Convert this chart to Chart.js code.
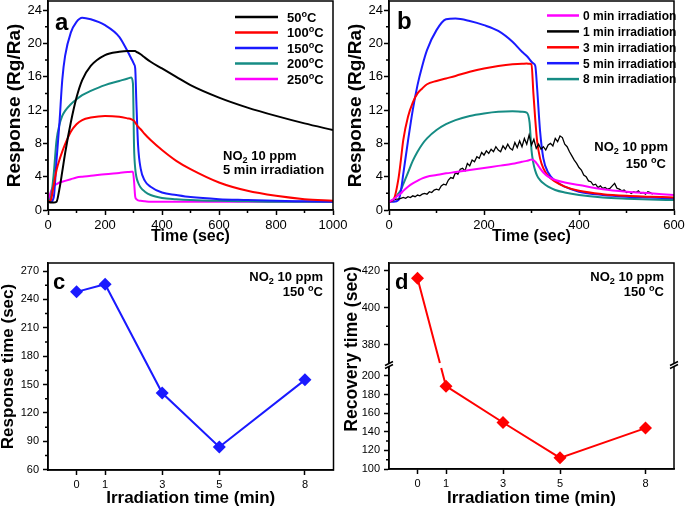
<!DOCTYPE html>
<html>
<head>
<meta charset="utf-8">
<script src="https://cdn.jsdelivr.net/npm/chart.js@4.4.1/dist/chart.umd.min.js"></script>
<style>
  html, body { margin: 0; padding: 0; background: #fff; }
  body { width: 685px; height: 507px; position: relative; overflow: hidden; }
  canvas { position: absolute; }
</style>
</head>
<body>
<canvas id="chartA" width="350" height="250" style="left:0px;top:0px"></canvas>
<canvas id="chartB" width="345" height="250" style="left:340px;top:0px"></canvas>
<canvas id="chartC" width="340" height="257" style="left:0px;top:250px"></canvas>
<canvas id="chartD" width="345" height="257" style="left:340px;top:250px"></canvas>
<script>
// ---- panel a : response transients at different temperatures ----
const aTime = [0, 10, 20, 30, 40, 50, 60, 80, 100, 120, 150, 200, 250, 280, 292, 298, 302, 306, 310, 316, 325, 340, 360, 400, 450, 500, 600, 700, 800, 900, 1000];
const a50 = [1.0, 0.9, 0.9, 1.0, 2.5, 4.6, 6.8, 10.5, 13.5, 15.6, 17.3, 18.6, 19.0, 19.1, 19.1, 19.1, 19.1, 19.1, 19.0, 18.9, 18.7, 18.3, 17.8, 17.0, 16.0, 15.0, 13.5, 12.3, 11.3, 10.4, 9.6];
const a100 = [1.0, 1.2, 3.0, 4.8, 6.0, 7.0, 7.9, 9.4, 10.3, 10.8, 11.1, 11.3, 11.2, 11.0, 10.9, 10.8, 10.7, 10.5, 10.3, 10.0, 9.7, 9.1, 8.4, 7.2, 5.9, 4.9, 3.3, 2.3, 1.7, 1.3, 1.1];
const a150 = [1.0, 1.0, 1.5, 6.0, 10.4, 15.6, 18.5, 21.3, 22.6, 23.1, 22.9, 22.2, 20.8, 19.0, 18.2, 17.8, 17.5, 17.0, 13.0, 7.8, 5.0, 3.5, 2.8, 2.1, 1.8, 1.55, 1.3, 1.2, 1.1, 1.05, 1.0];
const a200 = [1.0, 1.5, 4.3, 8.4, 10.2, 11.3, 11.9, 12.7, 13.3, 13.8, 14.3, 15.0, 15.5, 15.8, 15.9, 15.2, 7.5, 5.0, 4.0, 3.3, 2.7, 2.2, 1.8, 1.45, 1.3, 1.2, 1.1, 1.05, 1.0, 1.0, 1.0];
const a250 = [0.9, 2.2, 2.9, 3.1, 3.3, 3.4, 3.5, 3.7, 3.9, 4.0, 4.1, 4.3, 4.45, 4.55, 4.6, 4.6, 3.4, 1.6, 1.3, 1.15, 1.1, 1.05, 1.0, 1.0, 1.0, 1.0, 1.0, 1.0, 1.0, 1.0, 1.0];
const aLabels = ['50^oC', '100^oC', '150^oC', '200^oC', '250^oC'];
const aXTicks = [0, 200, 400, 600, 800, 1000];

// ---- panel b : response transients after different irradiation times ----
const bTime = [0, 10, 20, 25, 30, 40, 50, 60, 70, 80, 100, 120, 140, 170, 200, 230, 260, 280, 290, 296, 300, 304, 308, 312, 318, 325, 335, 350, 370, 400, 450, 500, 550, 600];
const b0 = [1.0, 1.3, 1.8, 2.0, 2.3, 2.8, 3.2, 3.5, 3.8, 4.0, 4.2, 4.4, 4.55, 4.8, 5.05, 5.3, 5.55, 5.8, 5.9, 6.0, 6.05, 6.0, 5.8, 5.5, 5.0, 4.5, 4.0, 3.6, 3.3, 3.0, 2.5, 2.2, 2.0, 1.8];
const b3 = [1.0, 1.3, 3.8, 6.0, 8.4, 11.2, 12.9, 14.0, 14.6, 15.1, 15.5, 15.8, 16.1, 16.6, 17.0, 17.3, 17.5, 17.55, 17.6, 17.55, 17.5, 14.0, 10.8, 8.2, 6.2, 5.0, 4.1, 3.4, 2.8, 2.3, 1.9, 1.7, 1.6, 1.5];
const b5 = [1.0, 1.0, 1.2, 2.3, 4.3, 8.3, 12.0, 15.0, 17.3, 19.2, 21.6, 22.9, 23.0, 22.7, 22.2, 21.5, 20.2, 19.0, 18.5, 18.1, 17.8, 17.6, 17.3, 14.5, 9.5, 6.2, 4.5, 3.5, 2.8, 2.2, 1.8, 1.6, 1.5, 1.4];
const b8 = [1.0, 1.3, 2.0, 2.4, 3.1, 4.5, 5.9, 7.0, 7.9, 8.6, 9.6, 10.3, 10.8, 11.3, 11.6, 11.8, 11.85, 11.8, 11.7, 10.5, 7.2, 5.6, 4.7, 4.1, 3.6, 3.2, 2.8, 2.4, 2.1, 1.8, 1.5, 1.35, 1.25, 1.2];
// noisy 1 min trace, one reading every 5 s
const b1 = [1.0, 1.1, 1.2, 1.3, 1.3, 1.4, 1.5, 1.4, 1.6, 1.5,
  1.7, 1.6, 1.8, 1.7, 1.9, 2.0, 1.9, 2.2, 2.1, 2.4,
  2.5, 2.4, 2.9, 3.1, 3.0, 3.6, 3.9, 3.8, 4.5, 4.3,
  4.9, 5.0, 4.7, 5.6, 5.3, 6.0, 5.8, 6.4, 6.2, 6.9,
  6.6, 7.1, 6.8, 7.3, 7.0, 7.6, 7.2, 7.0, 7.7, 7.3,
  7.9, 7.4, 7.2, 8.1, 7.5, 8.3, 7.6, 8.6, 7.9, 9.0,
  7.8, 8.5, 7.4, 7.9, 7.3, 7.6, 7.2, 7.8, 8.0, 7.7,
  8.6, 8.2, 8.9, 8.7, 7.9, 7.6, 7.0, 6.5, 6.0, 5.6,
  5.1, 4.8, 4.2, 4.0, 3.5, 3.4, 3.0, 3.1, 2.7, 2.9,
  2.6, 2.7, 2.5, 2.6, 2.9, 3.2, 2.6, 2.5, 2.3, 2.4,
  2.1, 2.2, 2.0, 2.2, 2.1, 2.3, 2.0, 2.1, 1.9, 2.2,
  2.1, 1.9];
const b1Time = b1.map((v, i) => i * 5);
const bLabels = ['0 min irradiation', '1 min irradiation', '3 min irradiation', '5 min irradiation', '8 min irradiation'];
const bXTicks = [0, 200, 400, 600];
const respTicks = [0, 4, 8, 12, 16, 20, 24];

// ---- panels c, d : response / recovery time vs irradiation time ----
const irrTime = [0, 1, 3, 5, 8];
const respTime = [248, 256, 141, 84, 155];
const recTime = [416, 189, 150, 112, 144];
const recSplit = 300; // values above go on the upper part of the broken axis
const cYTicks = [60, 90, 120, 150, 180, 210, 240, 270];
const dLowTicks = [100, 120, 140, 160, 180, 200];
const dUpTicks = [380, 400, 420];

const FONT = "'Liberation Sans', Arial, Helvetica, sans-serif";
const BLACK = '#000000', RED = '#ff0000', BLUE = '#1a1aff', TEAL = '#168c84', MAGENTA = '#ff00ff';

Chart.defaults.font.family = FONT;
Chart.defaults.color = '#000';

function series(xs, ys) {
  return xs.map((x, i) => ({ x: x, y: ys[i] }));
}

// text with _x subscripts and ^x superscripts
function rich(ctx, str, x, y, size, align) {
  const parts = str.split(/([_^].)/).filter(s => s.length).map(s =>
    s[0] === '_' ? { t: s[1], k: 0.7, dy: size * 0.22 } :
    s[0] === '^' ? { t: s[1], k: 0.7, dy: -size * 0.38 } :
    { t: s, k: 1, dy: 0 });
  let total = 0;
  parts.forEach(p => {
    ctx.font = 'bold ' + (size * p.k) + 'px ' + FONT;
    p.w = ctx.measureText(p.t).width;
    total += p.w;
  });
  let cx = align === 'right' ? x - total : x;
  ctx.textAlign = 'left';
  ctx.textBaseline = 'alphabetic';
  parts.forEach(p => {
    ctx.font = 'bold ' + (size * p.k) + 'px ' + FONT;
    ctx.fillText(p.t, cx, y + p.dy);
    cx += p.w;
  });
}

// frame, minor ticks, axis break, panel letter, legend and notes
function makeDeco(o) {
  return {
    id: 'deco',
    beforeDatasetsDraw(chart) {
      if (!o.bridge) return;
      const ctx = chart.ctx;
      const m0 = chart.getDatasetMeta(o.bridge[0]).data;
      const m1 = chart.getDatasetMeta(o.bridge[1]).data;
      const p = m0[m0.length - 1], q = m1[0];
      const b = chart.scales[o.brk].bottom;
      const at = y => p.x + (q.x - p.x) * (y - p.y) / (q.y - p.y);
      const ds = chart.data.datasets[o.bridge[1]];
      ctx.save();
      ctx.strokeStyle = ds.borderColor;
      ctx.lineWidth = ds.borderWidth;
      ctx.beginPath();
      ctx.moveTo(p.x, p.y);
      ctx.lineTo(at(b - 2), b - 2);
      ctx.moveTo(at(b + 3), b + 3);
      ctx.lineTo(q.x, q.y);
      ctx.stroke();
      ctx.restore();
    },
    afterDraw(chart) {
      const ctx = chart.ctx, a = chart.chartArea;
      ctx.save();
      ctx.strokeStyle = '#000';
      ctx.fillStyle = '#000';
      ctx.lineWidth = 1.5;
      // minor ticks
      Object.keys(o.minor || {}).forEach(id => {
        const s = chart.scales[id], step = o.minor[id];
        const major = s.ticks.map(t => t.value);
        ctx.beginPath();
        for (let v = Math.ceil(s.min / step) * step; v <= s.max; v += step) {
          if (major.some(m => Math.abs(m - v) < 1e-6)) continue;
          const px = s.getPixelForValue(v);
          if (s.isHorizontal()) {
            ctx.moveTo(px, a.bottom); ctx.lineTo(px, a.bottom + 3);
          } else {
            if (o.brk && Math.abs(px - chart.scales[o.brk].bottom) < 4) continue;
            ctx.moveTo(a.left, px); ctx.lineTo(a.left - 3, px);
          }
        }
        ctx.stroke();
      });
      // box
      ctx.strokeRect(a.left, a.top, a.width, a.height);
      // axis break marks
      if (o.brk) {
        const b = chart.scales[o.brk].bottom;
        [a.left, a.right].forEach(x => {
          ctx.fillStyle = '#fff';
          ctx.fillRect(x - 2, b - 1.5, 4, 3);
          ctx.beginPath();
          ctx.moveTo(x - 4, b + 0.5); ctx.lineTo(x + 4, b - 3.5);
          ctx.moveTo(x - 4, b + 3.5); ctx.lineTo(x + 4, b - 0.5);
          ctx.stroke();
        });
        ctx.fillStyle = '#000';
      }
      // rotated y title drawn by hand (broken axis)
      if (o.ytitle) {
        ctx.save();
        ctx.translate(o.ytitle.x, o.ytitle.y);
        ctx.rotate(-Math.PI / 2);
        ctx.font = 'bold ' + o.ytitle.size + 'px ' + FONT;
        ctx.textAlign = 'center';
        ctx.textBaseline = 'middle';
        ctx.fillText(o.ytitle.t, 0, 0);
        ctx.restore();
      }
      // panel letter
      ctx.font = 'bold ' + o.letter.size + 'px ' + FONT;
      ctx.textAlign = 'left';
      ctx.textBaseline = 'alphabetic';
      ctx.fillText(o.letter.t, o.letter.x, o.letter.y);
      // legend
      if (o.legend) {
        const L = o.legend;
        chart.data.datasets.forEach((ds, i) => {
          const y = L.y + i * L.dy;
          ctx.strokeStyle = ds.borderColor;
          ctx.lineWidth = 2.5;
          ctx.beginPath();
          ctx.moveTo(L.x0, y); ctx.lineTo(L.x1, y);
          ctx.stroke();
          ctx.fillStyle = '#000';
          rich(ctx, ds.label, L.tx, y + L.size * 0.36, L.size, 'left');
        });
      }
      // notes
      (o.notes || []).forEach(n => rich(ctx, n.t, n.x, n.y, n.size, n.align));
      ctx.restore();
    }
  };
}

const fitY = w => s => { s.width = w; s.paddingTop = 0; s.paddingBottom = 0; };
const fitX = h => s => { s.height = h; s.paddingLeft = 0; s.paddingRight = 0; };

function axis(c) {
  return {
    type: 'linear',
    min: c.min,
    max: c.max,
    afterBuildTicks: s => { s.ticks = c.ticks.map(v => ({ value: v })); },
    afterFit: c.fit,
    border: { display: true, color: '#000', width: 1.5 },
    grid: { drawOnChartArea: false, drawTicks: true, tickLength: 5, tickWidth: 1.5, tickColor: '#000' },
    ticks: {
      color: '#000', padding: c.tickPad, autoSkip: false, maxRotation: 0,
      font: { size: c.tickSize },
      callback: v => String(v)
    },
    title: {
      display: !!c.title,
      text: c.title,
      color: '#000',
      padding: c.titlePad || 0,
      font: { size: c.titleSize, weight: 'bold', lineHeight: c.lineHeight || 1.2 }
    }
  };
}

function curve(label, xs, ys, color, width) {
  return {
    label: label,
    data: series(xs, ys),
    borderColor: color,
    backgroundColor: color,
    borderWidth: width || 2,
    pointRadius: 0,
    fill: false,
    cubicInterpolationMode: 'monotone'
  };
}

const common = {
  responsive: false,
  animation: false,
  devicePixelRatio: 1,
  events: [],
  plugins: { legend: { display: false }, tooltip: { enabled: false } }
};

// Panel a
new Chart(document.getElementById('chartA'), {
  type: 'line',
  data: {
    datasets: [
      curve(aLabels[0], aTime, a50, BLACK),
      curve(aLabels[1], aTime, a100, RED),
      curve(aLabels[2], aTime, a150, BLUE),
      curve(aLabels[3], aTime, a200, TEAL),
      curve(aLabels[4], aTime, a250, MAGENTA)
    ]
  },
  options: Object.assign({}, common, {
    layout: { padding: { top: 1, right: 17, left: 0, bottom: 0 } },
    scales: {
      x: axis({ min: 0, max: 1000, ticks: aXTicks, fit: fitX(40), tickSize: 13, tickPad: 3,
        title: 'Time (sec)', titleSize: 16, titlePad: { top: 0, bottom: 4 } }),
      y: axis({ min: 0, max: 25.1, ticks: respTicks, fit: fitY(48), tickSize: 13, tickPad: 1,
        title: 'Response (Rg/Ra)', titleSize: 19, titlePad: { top: 3.6, bottom: 0 } })
    }
  }),
  plugins: [makeDeco({
    minor: { x: 100, y: 2 },
    letter: { t: 'a', x: 55, y: 30, size: 24 },
    legend: { x0: 235, x1: 278, tx: 287, y: 17, dy: 15.5, size: 13 },
    notes: [
      { t: 'NO_2 10 ppm', x: 223, y: 160, size: 13, align: 'left' },
      { t: '5 min irradiation', x: 223, y: 174, size: 13, align: 'left' }
    ]
  })]
});

// Panel b
new Chart(document.getElementById('chartB'), {
  type: 'line',
  data: {
    datasets: [
      curve(bLabels[0], bTime, b0, MAGENTA),
      Object.assign(curve(bLabels[1], b1Time, b1, BLACK, 1.3), { cubicInterpolationMode: 'default', tension: 0 }),
      curve(bLabels[2], bTime, b3, RED),
      curve(bLabels[3], bTime, b5, BLUE),
      curve(bLabels[4], bTime, b8, TEAL)
    ]
  },
  options: Object.assign({}, common, {
    layout: { padding: { top: 1, right: 11, left: 0, bottom: 0 } },
    scales: {
      x: axis({ min: 0, max: 600, ticks: bXTicks, fit: fitX(40), tickSize: 13, tickPad: 3,
        title: 'Time (sec)', titleSize: 16, titlePad: { top: 0, bottom: 4 } }),
      y: axis({ min: 0, max: 25.1, ticks: respTicks, fit: fitY(49), tickSize: 13, tickPad: 1,
        title: 'Response (Rg/Ra)', titleSize: 19, titlePad: { top: 4.6, bottom: 0 } })
    }
  }),
  plugins: [makeDeco({
    minor: { x: 100, y: 2 },
    letter: { t: 'b', x: 57, y: 29, size: 24 },
    legend: { x0: 207, x1: 239, tx: 243, y: 15.5, dy: 15.9, size: 12 },
    notes: [
      { t: 'NO_2 10 ppm', x: 328, y: 151, size: 13, align: 'right' },
      { t: '150 ^oC', x: 326, y: 168, size: 13, align: 'right' }
    ]
  })]
});

// Panel c
new Chart(document.getElementById('chartC'), {
  type: 'line',
  data: {
    datasets: [{
      label: 'Response time',
      data: series(irrTime, respTime),
      borderColor: BLUE,
      backgroundColor: BLUE,
      borderWidth: 2,
      pointStyle: 'rectRot',
      pointRadius: 6.5,
      pointBorderWidth: 0,
      tension: 0
    }]
  },
  options: Object.assign({}, common, {
    layout: { padding: { top: 13, right: 6, left: 0, bottom: 0 } },
    scales: {
      x: axis({ min: -1, max: 9, ticks: irrTime, fit: fitX(37), tickSize: 11, tickPad: 3,
        title: 'Irradiation time (min)', titleSize: 17, lineHeight: 1, titlePad: { top: 0, bottom: 0.5 } }),
      y: axis({ min: 59.7, max: 278.5, ticks: cYTicks, fit: fitY(48), tickSize: 11, tickPad: 4,
        title: 'Response time (sec)', titleSize: 17, lineHeight: 1, titlePad: { top: 0, bottom: 0 } })
    }
  }),
  plugins: [makeDeco({
    minor: { y: 15 },
    letter: { t: 'c', x: 53, y: 39, size: 22 },
    notes: [
      { t: 'NO_2 10 ppm', x: 323, y: 31, size: 13, align: 'right' },
      { t: '150 ^oC', x: 323, y: 46, size: 13, align: 'right' }
    ]
  })]
});

// Panel d (broken y axis: two stacked scales)
const recPts = series(irrTime, recTime);
new Chart(document.getElementById('chartD'), {
  type: 'line',
  data: {
    datasets: [
      { label: 'Recovery time (upper)', data: recPts.filter(p => p.y > recSplit), yAxisID: 'yUp' },
      { label: 'Recovery time', data: recPts.filter(p => p.y <= recSplit), yAxisID: 'yLow' }
    ].map(ds => Object.assign(ds, {
      borderColor: RED, backgroundColor: RED, borderWidth: 2,
      pointStyle: 'rectRot', pointRadius: 6.5, pointBorderWidth: 0, tension: 0
    }))
  },
  options: Object.assign({}, common, {
    layout: { padding: { top: 13, right: 11, left: 0, bottom: 0 } },
    scales: {
      x: axis({ min: -1, max: 9, ticks: irrTime, fit: fitX(38), tickSize: 11, tickPad: 3,
        title: 'Irradiation time (min)', titleSize: 17, lineHeight: 1, titlePad: { top: 0, bottom: 0.5 } }),
      yLow: Object.assign(axis({ min: 100, max: 211.8, ticks: dLowTicks, fit: fitY(49), tickSize: 11, tickPad: 4 }),
        { position: 'left', stack: 'rec', stackWeight: 104 }),
      yUp: Object.assign(axis({ min: 369, max: 424.2, ticks: dUpTicks, fit: fitY(49), tickSize: 11, tickPad: 4 }),
        { position: 'left', stack: 'rec', stackWeight: 102 })
    }
  }),
  plugins: [makeDeco({
    minor: { yUp: 10, yLow: 10 },
    brk: 'yUp',
    bridge: [0, 1],
    ytitle: { t: 'Recovery time (sec)', x: 12, y: 99, size: 17.5 },
    letter: { t: 'd', x: 55, y: 39, size: 22 },
    notes: [
      { t: 'NO_2 10 ppm', x: 324, y: 31, size: 13, align: 'right' },
      { t: '150 ^oC', x: 324, y: 46, size: 13, align: 'right' }
    ]
  })]
});
</script>
</body>
</html>
